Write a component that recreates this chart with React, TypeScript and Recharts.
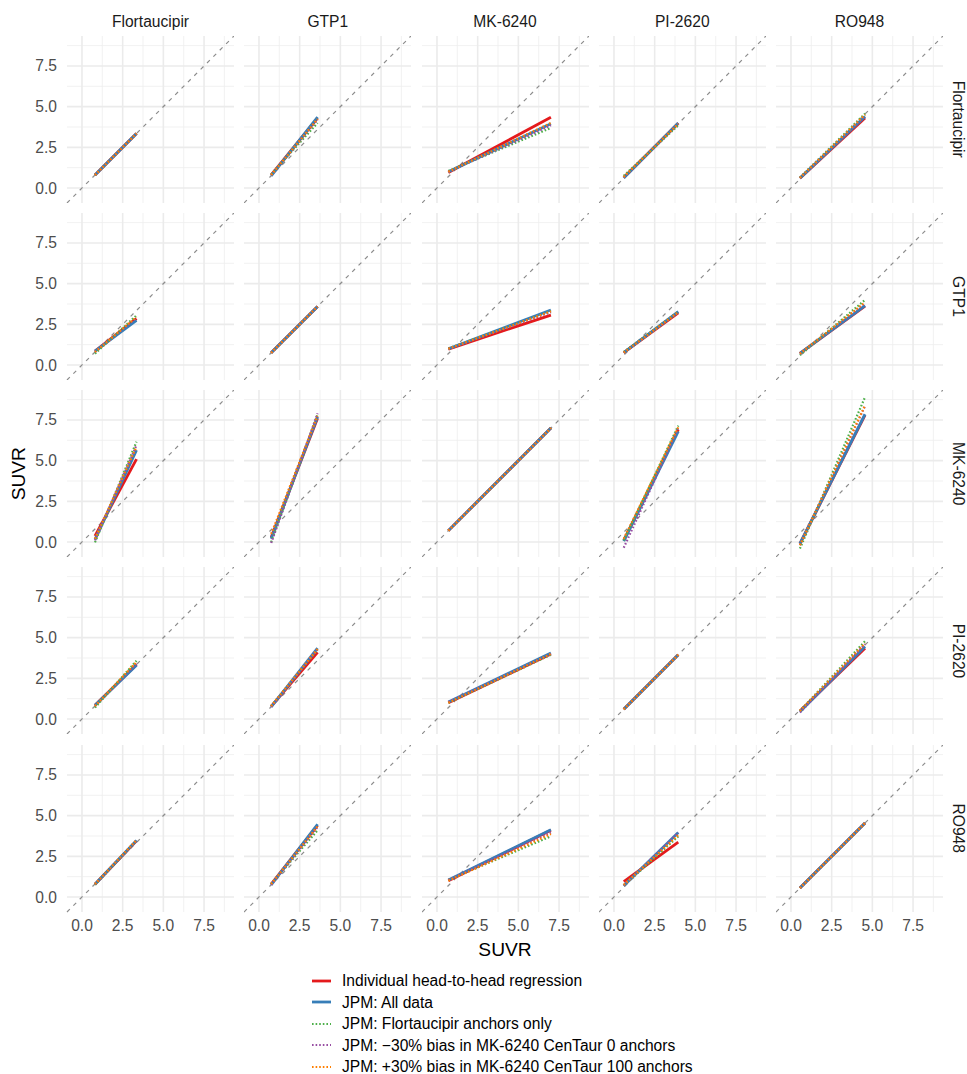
import { CartesianGrid, Line, LineChart, ReferenceLine, XAxis, YAxis } from "recharts"

// facet rows = y tracer, facet columns = x tracer
const tracers = ["Flortaucipir", "GTP1", "MK-6240", "PI-2620", "RO948"]

// SUVR range of each tracer on the x axis (lines run over this range)
const xLow = [0.8, 0.75, 0.7, 0.6, 0.55]
const xHigh = [3.35, 3.6, 7.0, 3.95, 4.55]

// y values at xLow / xHigh, one 5x5 table per series: [row][col]
const regLow = [
  [0.8, 0.8, 0.95, 0.65, 0.6],
  [0.85, 0.75, 0.98, 0.76, 0.72],
  [0.37, 0.3, 0.7, 0.1, -0.1],
  [0.85, 0.78, 1.0, 0.6, 0.5],
  [0.78, 0.8, 1.0, 0.95, 0.55],
]
const regHigh = [
  [3.35, 4.3, 4.35, 3.98, 4.3],
  [2.85, 3.6, 3.07, 3.2, 3.62],
  [5.09, 7.6, 7.0, 6.9, 7.8],
  [3.35, 4.1, 4.0, 3.95, 4.35],
  [3.45, 4.4, 4.1, 3.37, 4.55],
]
const allLow = [
  [0.8, 0.75, 1.0, 0.62, 0.6],
  [0.85, 0.75, 1.0, 0.76, 0.72],
  [0.15, 0.2, 0.7, 0.05, -0.1],
  [0.85, 0.75, 1.05, 0.6, 0.45],
  [0.78, 0.75, 1.05, 0.69, 0.55],
]
const allHigh = [
  [3.35, 4.35, 3.95, 4.0, 4.4],
  [2.75, 3.6, 3.38, 3.28, 3.65],
  [5.65, 7.7, 7.0, 6.8, 7.85],
  [3.3, 4.36, 4.05, 3.95, 4.45],
  [3.48, 4.47, 4.13, 3.97, 4.55],
]
const florLow = [
  [0.8, 0.85, 1.05, 0.75, 0.65],
  [0.7, 0.75, 1.02, 0.8, 0.6],
  [-0.02, 0.0, 0.7, 0.1, -0.4],
  [0.7, 0.8, 1.0, 0.6, 0.5],
  [0.75, 0.8, 1.05, 0.7, 0.55],
]
const florHigh = [
  [3.35, 4.0, 3.69, 3.85, 4.57],
  [3.05, 3.6, 3.3, 3.28, 4.0],
  [6.16, 7.85, 7.0, 7.15, 8.9],
  [3.58, 4.25, 3.95, 3.95, 4.78],
  [3.45, 4.1, 3.73, 3.73, 4.55],
]
const minusLow = [
  [0.8, 0.8, 1.0, 0.65, 0.62],
  [0.8, 0.75, 1.0, 0.76, 0.68],
  [0.1, -0.06, 0.7, -0.35, -0.2],
  [0.8, 0.75, 1.05, 0.6, 0.4],
  [0.78, 0.75, 1.05, 0.7, 0.55],
]
const minusHigh = [
  [3.35, 4.2, 3.85, 3.95, 4.45],
  [2.9, 3.6, 3.25, 3.25, 3.8],
  [5.95, 7.9, 7.0, 7.0, 8.35],
  [3.4, 4.3, 4.0, 3.95, 4.6],
  [3.45, 4.3, 3.97, 3.95, 4.55],
]
const plusLow = [
  [0.8, 0.8, 1.0, 0.68, 0.62],
  [0.8, 0.75, 1.0, 0.76, 0.7],
  [0.2, 0.5, 0.7, 0.2, -0.2],
  [0.8, 0.8, 1.0, 0.6, 0.5],
  [0.8, 0.8, 1.0, 0.75, 0.55],
]
const plusHigh = [
  [3.35, 4.25, 4.0, 3.95, 4.5],
  [2.95, 3.6, 3.3, 3.25, 3.85],
  [5.85, 7.75, 7.0, 7.05, 8.4],
  [3.5, 4.3, 4.0, 3.95, 4.65],
  [3.5, 4.35, 3.87, 3.8, 4.55],
]

const series = [
  { name: "Individual head-to-head regression", color: "#E41A1C", dotted: false, low: regLow, high: regHigh },
  { name: "JPM: All data", color: "#377EB8", dotted: false, low: allLow, high: allHigh },
  { name: "JPM: Flortaucipir anchors only", color: "#4DAF4A", dotted: true, low: florLow, high: florHigh },
  { name: "JPM: \u221230% bias in MK-6240 CenTaur 0 anchors", color: "#984EA3", dotted: true, low: minusLow, high: minusHigh },
  { name: "JPM: +30% bias in MK-6240 CenTaur 100 anchors", color: "#FF7F00", dotted: true, low: plusLow, high: plusHigh },
]

const majorTicks = [0, 2.5, 5, 7.5]
const minorTicks = [1.25, 3.75, 6.25, 8.75]
const DOMAIN: [number, number] = [-0.92, 9.34]

const PX = 67
const PY = 35.7
const STEP = 177.25
const PW = 167
const PH = 167
const YAXIS_W = 60
const XAXIS_H = 26
const SMALL = 15.6

const tickStyle = { fill: "#4d4d4d", fontSize: SMALL }

function Panel({ row, col }: { row: number; col: number }) {
  const isLeft = col === 0
  const isBottom = row === tracers.length - 1
  const yw = isLeft ? YAXIS_W : 0
  const xh = isBottom ? XAXIS_H : 0

  return (
    <div style={{ position: "absolute", left: PX + col * STEP - yw, top: PY + row * STEP }}>
      <LineChart width={PW + yw} height={PH + xh} margin={{ top: 0, right: 0, bottom: 0, left: 0 }}>
        <CartesianGrid
          verticalValues={minorTicks}
          horizontalValues={minorTicks}
          stroke="#eeeeee"
          strokeWidth={0.8}
        />
        <CartesianGrid
          verticalValues={majorTicks}
          horizontalValues={majorTicks}
          stroke="#ebebeb"
          strokeWidth={1.6}
        />
        <XAxis
          type="number"
          dataKey="x"
          domain={DOMAIN}
          allowDataOverflow
          ticks={majorTicks}
          interval={0}
          hide={!isBottom}
          height={xh}
          axisLine={false}
          tickLine={false}
          tickMargin={2}
          tick={tickStyle}
          tickFormatter={(v: number) => v.toFixed(1)}
        />
        <YAxis
          type="number"
          dataKey="y"
          domain={DOMAIN}
          allowDataOverflow
          ticks={majorTicks}
          interval={0}
          hide={!isLeft}
          width={yw}
          axisLine={false}
          tickLine={false}
          tickMargin={4}
          tick={tickStyle}
          tickFormatter={(v: number) => v.toFixed(1)}
        />
        <ReferenceLine
          segment={[
            { x: DOMAIN[0], y: DOMAIN[0] },
            { x: DOMAIN[1], y: DOMAIN[1] },
          ]}
          stroke="#8c8c8c"
          strokeWidth={1.2}
          strokeDasharray="4 5"
          ifOverflow="visible"
        />
        {series.map((s) => (
          <Line
            key={s.name}
            data={[
              { x: xLow[col], y: s.low[row][col] },
              { x: xHigh[col], y: s.high[row][col] },
            ]}
            dataKey="y"
            stroke={s.color}
            strokeWidth={s.dotted ? 2.2 : 2.8}
            strokeDasharray={s.dotted ? "1.6 2" : undefined}
            dot={false}
            activeDot={false}
            isAnimationActive={false}
          />
        ))}
      </LineChart>
    </div>
  )
}

export default function App() {
  return (
    <div
      style={{
        position: "absolute",
        left: 0,
        top: 0,
        width: 967,
        height: 1074,
        background: "#ffffff",
        fontFamily: "'Liberation Sans', Arial, sans-serif",
        overflow: "hidden",
      }}
    >
      {tracers.map((_, r) => tracers.map((_, c) => <Panel key={`${r}-${c}`} row={r} col={c} />))}

      <svg width={967} height={1074} style={{ position: "absolute", left: 0, top: 0, pointerEvents: "none" }}>
        {tracers.map((t, c) => (
          <text key={`col-${t}`} x={PX + c * STEP + PW / 2} y={26.5} textAnchor="middle" fontSize={SMALL} fill="#1a1a1a">
            {t}
          </text>
        ))}
        {tracers.map((t, r) => (
          <text
            key={`row-${t}`}
            transform={`translate(958, ${PY + r * STEP + PH / 2}) rotate(90)`}
            textAnchor="middle"
            dominantBaseline="central"
            fontSize={SMALL}
            fill="#1a1a1a"
          >
            {t}
          </text>
        ))}
        <text x={PX + (4 * STEP + PW) / 2} y={955.5} textAnchor="middle" fontSize={19.2} fill="#000">
          SUVR
        </text>
        <text
          transform={`translate(18, ${PY + (4 * STEP + PH) / 2}) rotate(-90)`}
          textAnchor="middle"
          dominantBaseline="central"
          fontSize={19.2}
          fill="#000"
        >
          SUVR
        </text>
      </svg>

      <div style={{ position: "absolute", left: 310, top: 970 }}>
        {series.map((s) => (
          <div key={s.name} style={{ display: "flex", alignItems: "center", height: 21.5 }}>
            <svg width={24} height={12} style={{ marginRight: 8 }}>
              <line
                x1={2}
                x2={21}
                y1={6}
                y2={6}
                stroke={s.color}
                strokeWidth={s.dotted ? 2.2 : 2.8}
                strokeDasharray={s.dotted ? "1.6 2" : undefined}
              />
            </svg>
            <span style={{ fontSize: SMALL, lineHeight: "15px", color: "#000", whiteSpace: "nowrap" }}>{s.name}</span>
          </div>
        ))}
      </div>
    </div>
  )
}
